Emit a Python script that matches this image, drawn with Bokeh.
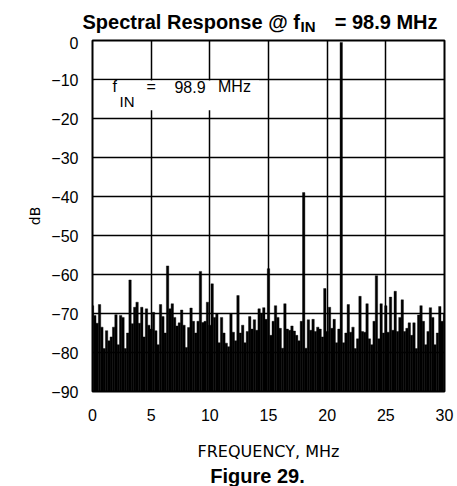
from bokeh.plotting import figure
from bokeh.models import Label, FixedTicker, Range1d
from bokeh.embed import file_html
from bokeh.resources import INLINE

# ---- data ----
freq_step_mhz = 0.2
spectrum_db = [
    -68, -70.5, -72.5, -67.7, -73.5, -79, -74.4, -77, -76, -73.5, -70.3, -78, -70.5,
    -71, -79, -75, -61.4, -72.6, -68.4, -67.1, -72.5, -68.4, -76, -68.8, -73,
    -74, -69.7, -74.4, -78, -67.7, -70.8, -75, -57.8, -68.8, -67.5, -71, -73.2, -72.4,
    -69.1, -73, -78.7, -73.6, -68.6, -72, -75, -72, -59.2, -72.3, -72, -67.1,
    -73, -62.4, -71, -70, -77.5, -71, -75, -77.6, -78.5, -70, -74.8, -77, -65.4,
    -75, -73, -77.5, -74.6, -70.8, -74, -71.6, -74.3, -68.8, -70, -68.5, -71.5,
    -58.5, -75.6, -72, -68, -71, -73.8, -78.9, -67.5, -74, -74.3, -73.2, -74.5, -75.6,
    -77, -72, -39, -78.9, -71.6, -74.3, -71.5, -74.6, -73.5, -74, -76, -63.6,
    -74.6, -68.4, -73.8, -71.5, -77.5, -74, -0.5, -77.5, -75, -67.7, -74.8, -73.5, -79,
    -76.5, -65.6, -74.6, -74.8, -67.5, -76.5, -78, -72, -60.3, -76.5, -67.5, -75,
    -68, -74.8, -65.8, -74.3, -64.3, -74.6, -71, -66.5, -74.6, -73.8, -72.4, -75.6, -72.4,
    -79, -70.4, -68, -72, -78, -74.6, -68.5, -71, -78, -75, -68.2, -72,
    -70,
]
freqs_mhz = [round(i * freq_step_mhz, 2) for i in range(len(spectrum_db))]

x_ticks = [0, 5, 10, 15, 20, 25, 30]
y_ticks = [-90, -80, -70, -60, -50, -40, -30, -20, -10, 0]
y_tick_labels = {-90: "\u221290", -80: "\u221280", -70: "\u221270", -60: "\u221260",
                 -50: "\u221250", -40: "\u221240", -30: "\u221230", -20: "\u221220",
                 -10: "\u221210", 0: "0"}

FONT = "Liberation Sans"
PAGE_W = 457


def lab(fig, text, x, y, size, align="left", units="data", bold=False, font=FONT):
    fig.add_layout(Label(x=x, y=y, x_units=units, y_units=units, text=text,
                         text_font=font, text_font_size=size, text_align=align,
                         text_baseline="alphabetic", text_color="black",
                         text_font_style="bold" if bold else "normal"))


def text_strip(height):
    f = figure(width=PAGE_W, height=height, output_backend="svg", toolbar_location=None,
               x_range=Range1d(0, PAGE_W), y_range=Range1d(0, height),
               x_axis_type=None, y_axis_type=None, min_border=0)
    f.outline_line_color = None
    f.background_fill_color = "white"
    f.border_fill_color = "white"
    return f


# ---- header with the title: Spectral Response @ f_IN = 98.9 MHz ----
header = text_strip(36)
lab(header, "Spectral Response @ f", 82, 15, "20px", bold=True)
lab(header, "IN", 300, 10, "15px", bold=True)
lab(header, "= 98.9 MHz", 437, 15, "20px", align="right", bold=True)

# ---- main plot ----
p = figure(frame_width=352, frame_height=351, output_backend="svg", toolbar_location=None,
           x_range=Range1d(0, 30), y_range=Range1d(-90, 0),
           min_border_left=92, min_border_right=13, min_border_top=4, min_border_bottom=75)
p.background_fill_color = "white"
p.border_fill_color = "white"
p.outline_line_color = "black"
p.outline_line_width = 2

p.xgrid.ticker = FixedTicker(ticks=x_ticks)
p.ygrid.ticker = FixedTicker(ticks=y_ticks)
for g in (p.xgrid, p.ygrid):
    g.grid_line_color = "black"
    g.grid_line_width = 1.5

p.xaxis.ticker = FixedTicker(ticks=x_ticks)
p.yaxis.ticker = FixedTicker(ticks=y_ticks)
p.yaxis.major_label_overrides = y_tick_labels
for ax in (p.xaxis, p.yaxis):
    ax.axis_line_color = None
    ax.major_tick_line_color = None
    ax.minor_tick_line_color = None
    ax.major_tick_out = 0
    ax.major_tick_in = 0
    ax.major_label_text_font = FONT
    ax.major_label_text_font_size = "16px"
    ax.major_label_text_color = "black"
    ax.axis_label_text_color = "black"
    ax.axis_label_text_font_style = "normal"
p.xaxis.major_label_standoff = 17
p.yaxis.major_label_standoff = 14
p.xaxis.axis_label = "FREQUENCY, MHz"
p.xaxis.axis_label_text_font = "DejaVu Sans"
p.xaxis.axis_label_text_font_size = "16px"
p.xaxis.axis_label_standoff = 18
p.yaxis.axis_label = "dB"
p.yaxis.axis_label_text_font = "DejaVu Sans"
p.yaxis.axis_label_text_font_size = "14px"
p.yaxis.axis_label_standoff = 5

# spectrum
p.vbar(x=freqs_mhz, top=spectrum_db, bottom=-90, width=freq_step_mhz * 1.02,
       fill_color="black", line_color="black", line_width=0.4)

# white box behind the in-plot annotation
p.quad(left=[0.15], right=[14.2], bottom=[-17.9], top=[-10.25],
       fill_color="white", line_color=None)

# in-plot annotation  f_IN = 98.9 MHz
lab(p, "f", 1.7, -11.9, "16px")
lab(p, "IN", 2.3, -15.7, "15px")
lab(p, "=", 4.6, -11.9, "16px")
lab(p, "98.9", 8.31, -11.9, "16px", align="center")
lab(p, "MHz", 12.1, -11.9, "16px", align="center")

# ---- footer with the caption ----
footer = text_strip(20)
lab(footer, "Figure 29.", 257, 11, "20px", align="center", bold=True)

open("out.html", "w").write(file_html([header, p, footer], INLINE))
